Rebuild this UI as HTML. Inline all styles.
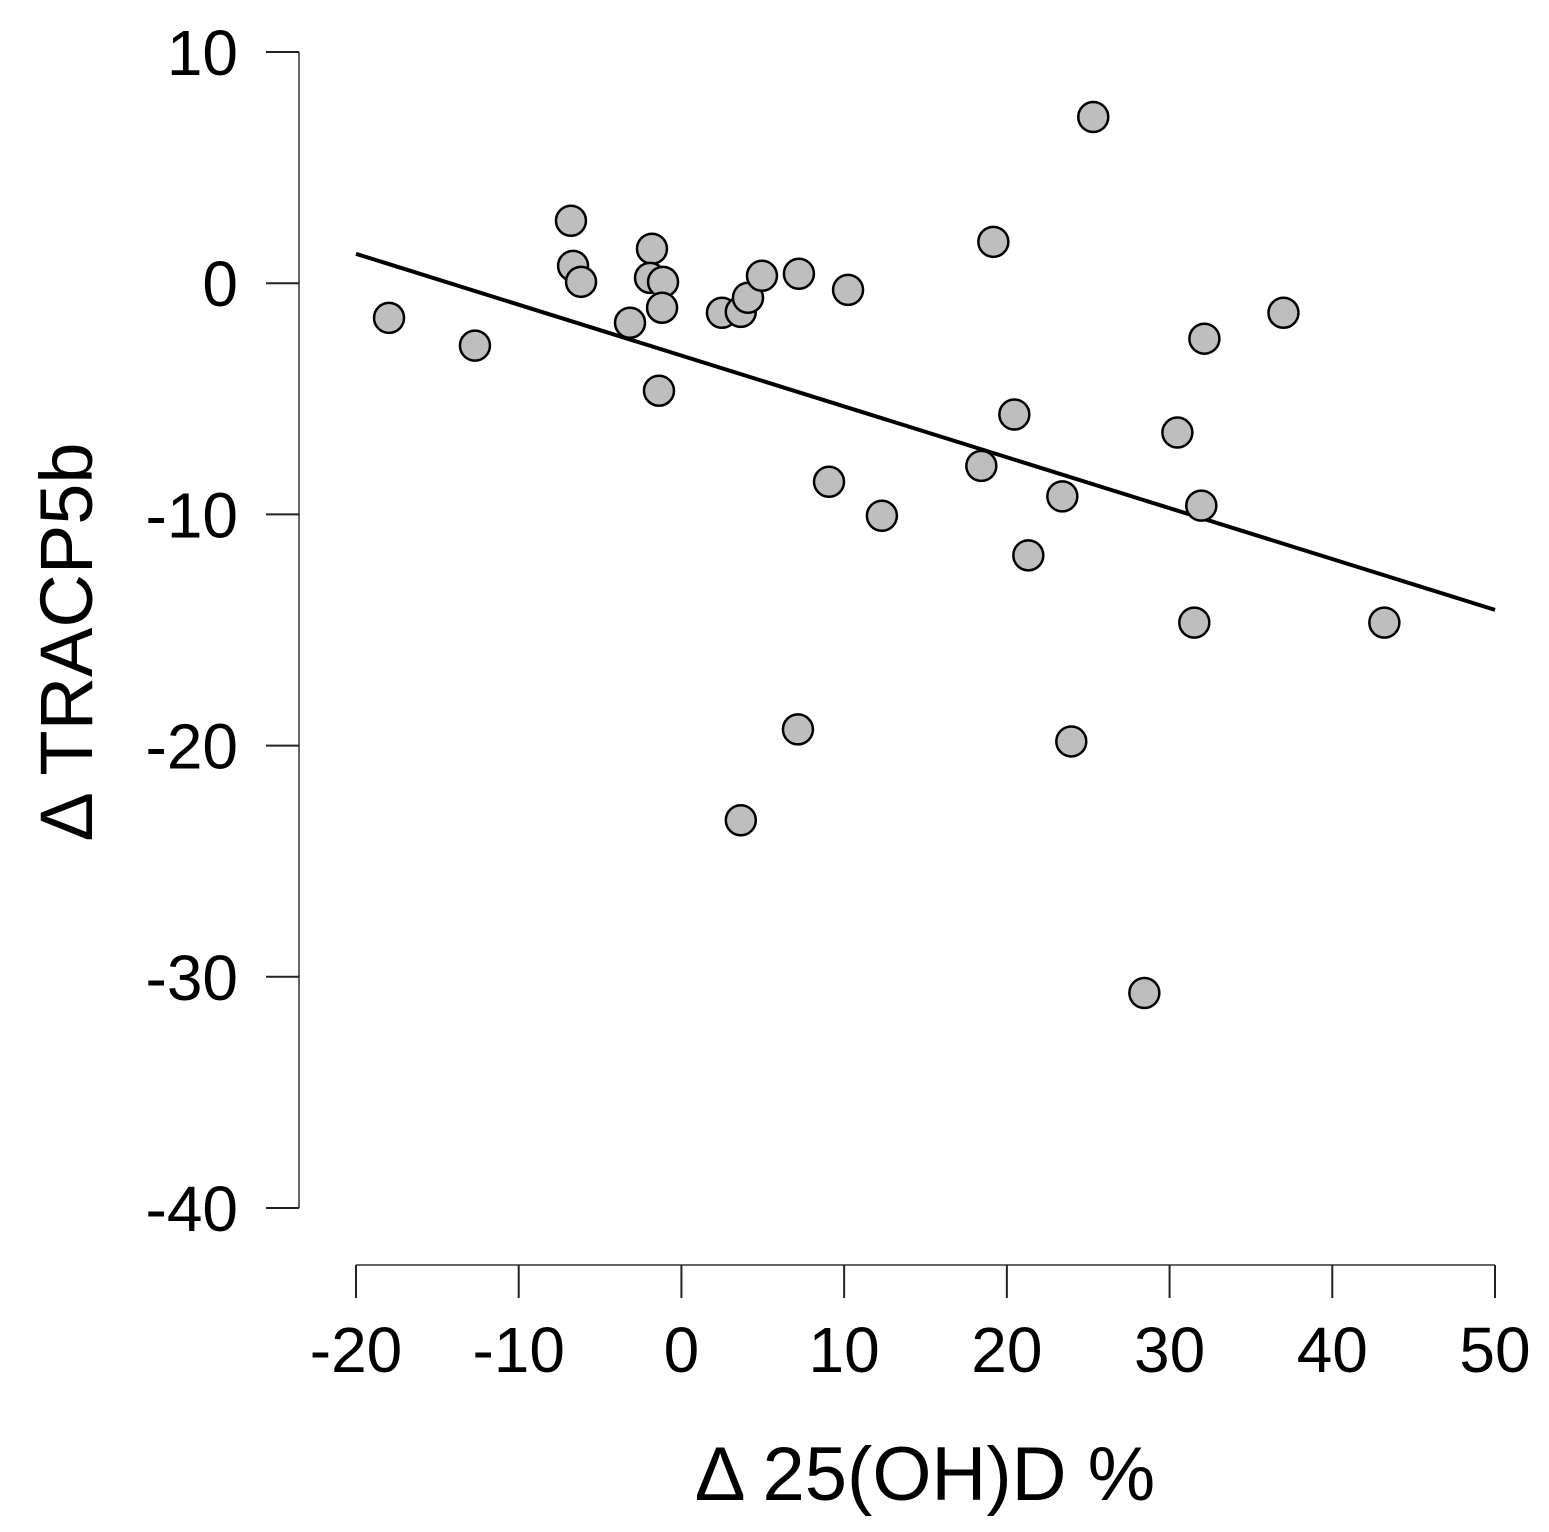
<!DOCTYPE html>
<html><head><meta charset="utf-8"><style>
html,body{margin:0;padding:0;background:#fff;}
svg{display:block;font-family:"Liberation Sans",sans-serif;}
</style></head><body>
<svg id="chart" width="1549" height="1532" viewBox="0 0 1549 1532">
<g id="axes"></g>
<line id="fit" stroke="#000" stroke-width="4"/>
<g id="points"></g>
<text x="92" y="642" transform="rotate(-90 92 642)" text-anchor="middle" font-size="74">Δ TRACP5b</text>
<text x="925" y="1500" text-anchor="middle" font-size="76">Δ 25(OH)D %</text>
</svg>
<script>
const xTicks = [-20,-10,0,10,20,30,40,50];
const yTicks = [10,0,-10,-20,-30,-40];
const xVals = [-17.97,-12.69,-6.79,-6.66,-6.17,-3.16,-1.81,-1.93,-1.13,-1.19,-1.38,2.49,3.65,4.09,4.95,7.22,10.24,7.16,9.07,12.32,3.65,18.43,19.17,20.46,21.32,23.41,23.96,25.31,28.45,30.48,31.52,31.95,32.14,37.0,43.2];
const yVals = [-1.50,-2.70,2.70,0.75,0.06,-1.71,1.49,0.23,0.06,-1.06,-4.65,-1.28,-1.24,-0.63,0.32,0.41,-0.29,-19.3,-8.59,-10.06,-23.23,-7.9,1.79,-5.68,-11.77,-9.22,-19.82,7.19,-30.7,-6.46,-14.68,-9.62,-2.4,-1.28,-14.68];
const fitX = [-20,50];
const fitY = [1.27,-14.13];

const sx = v => 356 + (v + 20) * (1495 - 356) / 70;
const sy = v => 52 + (10 - v) * (1208 - 52) / 50;
const NS = "http://www.w3.org/2000/svg";
const axes = document.getElementById('axes');
function mk(tag, attrs, parent){const e=document.createElementNS(NS,tag);for(const k in attrs)e.setAttribute(k,attrs[k]);parent.appendChild(e);return e;}

let l = mk('line',{x1:299,x2:299,y1:sy(10),y2:sy(-40),stroke:'#666','stroke-width':2},axes);


yTicks.forEach(t=>{
  const tk = mk('line',{x1:266,x2:299,y1:sy(t),y2:sy(t),stroke:'#222','stroke-width':2},axes);
  
  
  const tx = mk('text',{x:238,y:sy(t)+23,'text-anchor':'end','font-size':64},axes);
  tx.textContent = t;
  
  
});
l = mk('line',{x1:sx(-20),x2:sx(50),y1:1265,y2:1265,stroke:'#666','stroke-width':2},axes);


xTicks.forEach(t=>{
  const tk = mk('line',{x1:sx(t),x2:sx(t),y1:1265,y2:1298,stroke:'#222','stroke-width':2},axes);
  
  
  const tx = mk('text',{x:sx(t),y:1372,'text-anchor':'middle','font-size':64},axes);
  tx.textContent = t;
  
  
});
const fit = document.getElementById('fit');
fit.setAttribute('x1',sx(fitX[0]));fit.setAttribute('y1',sy(fitY[0]));
fit.setAttribute('x2',sx(fitX[1]));fit.setAttribute('y2',sy(fitY[1]));
const pts = document.getElementById('points');
xVals.forEach((x,i)=>{
  const c = mk('circle',{cx:sx(x),cy:sy(yVals[i]),r:15,fill:'#bebebe',stroke:'#000','stroke-width':2.5},pts);
  
  
});
</script>
</body></html>
